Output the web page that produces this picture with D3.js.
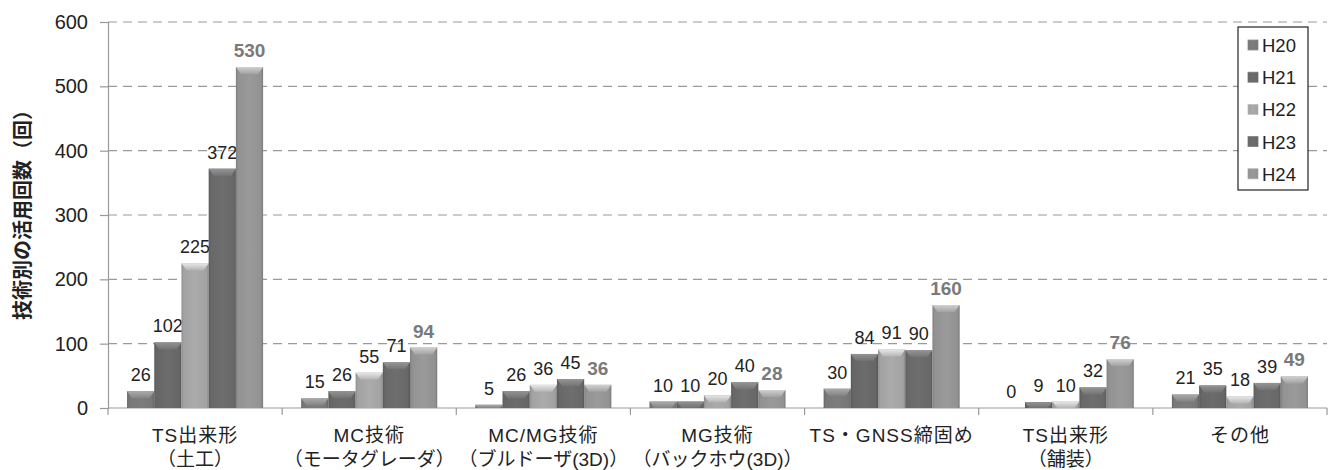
<!DOCTYPE html>
<html><head><meta charset="utf-8">
<script src="https://cdn.jsdelivr.net/npm/d3@7"></script>
<style>
body{margin:0;background:#fff;}
text{font-family:"Liberation Sans","Noto Sans CJK JP",Arial,sans-serif;}
</style></head>
<body>
<svg id="chart" width="1332" height="470"></svg>
<script>
const categories = [
  ["TS出来形","（土工）"],
  ["MC技術","（モータグレーダ）"],
  ["MC/MG技術","（ブルドーザ(3D)）"],
  ["MG技術","（バックホウ(3D)）"],
  ["TS・GNSS締固め",""],
  ["TS出来形","（舗装）"],
  ["その他",""]
];
const seriesNames = ["H20","H21","H22","H23","H24"];
const H20 = [26,15,5,10,30,0,21];
const H21 = [102,26,26,10,84,9,35];
const H22 = [225,55,36,20,91,10,18];
const H23 = [372,71,45,40,90,32,39];
const H24 = [530,94,36,28,160,76,49];
const yTicks = [0,100,200,300,400,500,600];
const seriesColors = ["#7b7b7b","#6a6a6a","#a8a8a8","#6c6c6c","#979797"];

const seriesValues = [H20,H21,H22,H23,H24];
const svg = d3.select("#chart");
const mLeft = 108, mRight = 1327, mTop = 22, mBottom = 408;

const x = d3.scaleBand().domain(d3.range(categories.length)).range([mLeft,mRight]).padding(0);
const xs = d3.scaleBand().domain(seriesNames).range([0,x.bandwidth()]).paddingInner(0).paddingOuter(0.7);
const y = d3.scaleLinear().domain([0,600]).range([mBottom,mTop]);

// gradients
const defs = svg.append("defs");
seriesColors.forEach((c,i)=>{
  const g = defs.append("linearGradient").attr("id","g"+i).attr("x1","0").attr("x2","1").attr("y1","0").attr("y2","0");
  const col = d3.color(c);
  g.append("stop").attr("offset","0%").attr("stop-color",col.darker(0.5));
  g.append("stop").attr("offset","8%").attr("stop-color",col.darker(0.1));
  g.append("stop").attr("offset","50%").attr("stop-color",col.brighter(0.05));
  g.append("stop").attr("offset","92%").attr("stop-color",col.darker(0.1));
  g.append("stop").attr("offset","100%").attr("stop-color",col.darker(0.6));
  const t = defs.append("linearGradient").attr("id","t"+i).attr("x1","0").attr("x2","0").attr("y1","0").attr("y2","1");
  t.append("stop").attr("offset","0%").attr("stop-color",col.brighter(0.9));
  t.append("stop").attr("offset","100%").attr("stop-color",col.brighter(0.2));
});

// gridlines
svg.append("g").selectAll("line").data(yTicks.filter(d=>d>0)).join("line")
  .attr("x1",mLeft).attr("x2",mRight).attr("y1",d=>y(d)).attr("y2",d=>y(d))
  .attr("stroke","#9a9a9a").attr("stroke-width",1.2).attr("stroke-dasharray","9,6");

// y axis
const yAxis = svg.append("g").attr("transform",`translate(${mLeft},0)`)
  .call(d3.axisLeft(y).tickValues(yTicks).tickSize(8).tickPadding(12));
yAxis.select(".domain").attr("stroke","#999").attr("stroke-width",1.2);
yAxis.selectAll(".tick line").attr("stroke","#999").attr("stroke-width",1.2);
yAxis.selectAll(".tick text").attr("font-size",20).attr("fill","#222")
  .attr("font-family","Liberation Sans, Arial, sans-serif");

// x axis line
svg.append("line").attr("x1",mLeft).attr("x2",mRight).attr("y1",mBottom).attr("y2",mBottom)
  .attr("stroke","#999").attr("stroke-width",1.2);
const bounds = d3.range(categories.length+1).map(i=> i<categories.length ? x(i) : x(i-1)+x.bandwidth());
svg.append("g").selectAll("line").data(bounds).join("line")
  .attr("x1",d=>d).attr("x2",d=>d).attr("y1",mBottom).attr("y2",mBottom+7)
  .attr("stroke","#999").attr("stroke-width",1.2);

// x labels
const xl = svg.append("g").selectAll("g").data(categories).join("g")
  .attr("transform",(d,i)=>`translate(${x(i)+x.bandwidth()/2},0)`);
xl.append("text").attr("y",442).attr("text-anchor","middle").attr("font-size",19).attr("fill","#222")
  .attr("letter-spacing",1).text(d=>d[0]);
xl.append("text").attr("y",466).attr("text-anchor","middle").attr("font-size",19).attr("fill","#222")
  .attr("letter-spacing",0).text(d=>d[1]);

// bars
const groups = svg.append("g").selectAll("g").data(categories).join("g")
  .attr("transform",(d,i)=>`translate(${x(i)},0)`);
const bw = xs.bandwidth();
groups.each(function(_,ci){
  const g = d3.select(this);
  seriesNames.forEach((s,si)=>{
    const v = seriesValues[si][ci];
    const x0 = xs(s), yt = y(v), h = mBottom - yt;
    if(h>0){
      g.append("rect").attr("x",x0).attr("y",yt).attr("width",bw).attr("height",h)
        .attr("fill",`url(#g${si})`);
      const bh = Math.min(7,h), inset = Math.min(5,bh*0.8);
      g.append("polygon")
        .attr("points",[[x0,yt],[x0+bw,yt],[x0+bw-inset,yt+bh],[x0+inset,yt+bh]].map(p=>p.join(",")).join(" "))
        .attr("fill",`url(#t${si})`);
    }
    g.append("text").attr("x",x0+bw/2).attr("y",yt-10).attr("text-anchor","middle")
      .attr("font-size",si===4?19:18)
      .attr("font-weight",si===4?"bold":"normal")
      .attr("fill",si===4?"#7a7a7a":"#222")
      .text(v);
  });
});

// y title
svg.append("text").attr("transform","translate(30,210) rotate(-90)")
  .attr("text-anchor","middle").attr("font-size",20).attr("font-weight","bold").attr("fill","#222")
  .text("技術別の活用回数（回）");

// legend
const lg = svg.append("g");
lg.append("rect").attr("x",1238).attr("y",27).attr("width",70).attr("height",163)
  .attr("fill","#fff").attr("stroke","#222").attr("stroke-width",1.2);
const li = lg.selectAll("g").data(seriesNames).join("g")
  .attr("transform",(d,i)=>`translate(1248,${45+i*32.2})`);
li.append("rect").attr("x",0).attr("y",-5).attr("width",10).attr("height",10)
  .attr("fill",(d,i)=>`url(#g${i})`).attr("stroke",(d,i)=>d3.color(seriesColors[i]).brighter(0.4)).attr("stroke-width",0.8);
li.append("text").attr("x",14).attr("y",7).attr("font-size",18.5).attr("fill","#222").text(d=>d);
</script>
</body></html>
